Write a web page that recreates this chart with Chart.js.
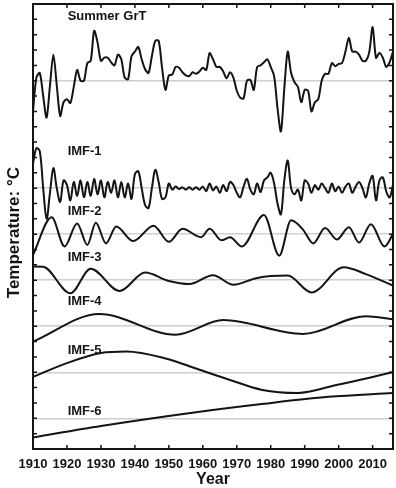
<!DOCTYPE html>
<html>
<head>
<meta charset="utf-8">
<script src="https://cdn.jsdelivr.net/npm/chart.js@4"></script>
<style>
  html, body { margin: 0; padding: 0; background: #fff; }
</style>
</head>
<body>
<canvas id="chart" width="396" height="488"></canvas>
<script>
// annual series (anomaly relative to each panel's own zero line)
const years = [
  1910, 1911, 1912, 1913, 1914, 1915, 1916, 1917, 1918, 1919,
  1920, 1921, 1922, 1923, 1924, 1925, 1926, 1927, 1928, 1929,
  1930, 1931, 1932, 1933, 1934, 1935, 1936, 1937, 1938, 1939,
  1940, 1941, 1942, 1943, 1944, 1945, 1946, 1947, 1948, 1949,
  1950, 1951, 1952, 1953, 1954, 1955, 1956, 1957, 1958, 1959,
  1960, 1961, 1962, 1963, 1964, 1965, 1966, 1967, 1968, 1969,
  1970, 1971, 1972, 1973, 1974, 1975, 1976, 1977, 1978, 1979,
  1980, 1981, 1982, 1983, 1984, 1985, 1986, 1987, 1988, 1989,
  1990, 1991, 1992, 1993, 1994, 1995, 1996, 1997, 1998, 1999,
  2000, 2001, 2002, 2003, 2004, 2005, 2006, 2007, 2008, 2009,
  2010, 2011, 2012, 2013, 2014, 2015, 2016
];

const summerGrT = [
  -2.0, 0.2, 0.5, -1.0, -2.4, -0.3, 1.7, -0.3, -2.3, -1.4,
  -1.2, -1.45, -0.4, 0.7, 0.0, 0.0, 1.15, 1.3, 3.25, 2.5,
  1.3, 1.5, 1.5, 1.2, 1.0, 1.7, 1.4, 0.2, 0.1, 1.6,
  1.9, 2.2, 1.4, 0.75, 0.5, 1.6, 2.6, 2.6, 0.85, -0.6,
  0.35, 0.4, 0.9, 0.85, 0.55, 0.35, 0.3, 0.55, 0.45, 0.6,
  0.85, 0.7, 1.8, 1.4, 0.9, 0.9, 0.6, 0.15, 0.55, 0.2,
  -0.65, -1.1, -1.15, 0.0, 0.05, -0.6, 0.9, 1.0, 1.2, 1.4,
  0.9, 0.3, -1.8, -3.3, -0.5, 1.9, 0.5, -0.1, -0.4, -1.4,
  -0.6, -0.65, -2.0, -1.4, -1.2, 0.0, 0.45, 0.45, 1.15, 0.95,
  1.1, 1.15, 1.9, 2.8, 1.9, 1.9, 1.7, 1.3, 1.3, 1.85,
  3.5, 1.5, 1.8, 1.5, 0.9, 1.2, 1.9
];

const imf1 = [
  1.6, 2.6, 2.4, 0.0, -2.0, -0.3, 1.3, 0.0, -0.9, 0.5,
  0.2, -0.8, 0.4, -0.5, 0.5, -0.6, 0.4, -0.5, 0.6, -0.4,
  0.5, -0.6, 0.4, -0.3, 0.5, -0.6, 0.4, -0.6, 0.3, -0.7,
  0.9, 1.1, 0.0, -1.1, -1.3, 0.0, 1.2, 0.4, -0.7, -0.6,
  0.3, -0.1, 0.1, -0.05, 0.05, -0.1, 0.05, -0.1, 0.05, -0.1,
  0.1, -0.2, 0.3, -0.15, 0.1, -0.3, 0.2, -0.2, 0.4, 0.2,
  -0.3, -0.6, 0.1, 0.6, -0.1, -0.4, 0.3, -0.25, 0.5, 0.7,
  1.0, 0.3, -1.0, -1.7, 0.5, 1.8, 0.0, -0.4, -0.1, -0.8,
  0.5, 0.3, -0.3, 0.2, -0.1, 0.3, 0.0, -0.3, 0.3, -0.2,
  0.1, -0.3, 0.1, 0.3, -0.3, 0.1, 0.4, 0.0, -0.6, 0.3,
  0.8, -0.8, 0.5, 0.7, -0.2, -0.6, 0.2
];

// smoother modes, read at their turning points
const imf2Years = [1910, 1915.5, 1919.3, 1923, 1926, 1928.5, 1931.5, 1934.5, 1939.5, 1945.5, 1950, 1954, 1959.5, 1962, 1965.5, 1968, 1971.5, 1978, 1982.5, 1986, 1989.5, 1992.5, 1996, 1999.5, 2003, 2006, 2009.5, 2013.5, 2016];
const imf2 = [-1.35, 1.1, -0.8, 0.7, -0.7, 0.75, -0.6, 0.5, -0.45, 0.55, -0.5, 0.35, -0.2, 0.35, -0.4, -0.2, -0.8, 1.25, -1.4, 0.9, 0.3, -0.6, 0.4, -0.35, 0.45, -0.55, 0.65, -0.8, 0.0];

const imf3Years = [1910, 1913, 1921, 1927, 1935.5, 1943, 1950, 1956, 1963, 1969, 1976, 1985, 1992, 2001.5, 2008, 2016];
const imf3 = [0.9, 0.88, -0.85, 0.75, -0.7, 0.5, -0.05, -0.25, 0.33, -0.3, 0.15, 0.3, -0.8, 0.85, 0.4, -0.35];

const imf4Years = [1910, 1929.5, 1952, 1966, 1989.5, 2008, 2016];
const imf4 = [-1.0, 0.8, -0.55, 0.4, -0.5, 0.65, 0.45];

const imf5Years = [1910, 1920, 1930, 1937.5, 1949, 1958, 1968, 1977.5, 1988, 1999, 2016];
const imf5 = [-0.3, 0.6, 1.25, 1.35, 0.9, 0.25, -0.5, -1.15, -1.35, -0.85, 0.0];

const imf6Years = [1910, 1930, 1958, 1978, 1997, 2016];
const imf6 = [-1.25, -0.5, 0.4, 0.95, 1.4, 1.65];

const seriesNames = ['Summer GrT', 'IMF-1', 'IMF-2', 'IMF-3', 'IMF-4', 'IMF-5', 'IMF-6'];
const xTickYears = [1910, 1920, 1930, 1940, 1950, 1960, 1970, 1980, 1990, 2000, 2010];

// vertical stacking of the panels (axis units)
const zeroLevels = [24, 17, 14, 11, 8, 5, 2];
const labelLevels = [28.2, 19.4, 15.5, 12.5, 9.6, 6.4, 2.45];
const labelYear = 1920.2;

const FONT = '"Liberation Sans", Arial, Helvetica, sans-serif';

const toPoints = (xs, vs, base) => vs.map((v, i) => ({ x: xs[i], y: v + base }));

const lineStyle = {
  borderColor: '#141414',
  borderWidth: 2,
  pointRadius: 0,
  fill: false
};

const datasets = [
  { ...lineStyle, label: seriesNames[0], data: toPoints(years, summerGrT, zeroLevels[0]), tension: 0.3 },
  { ...lineStyle, label: seriesNames[1], data: toPoints(years, imf1, zeroLevels[1]), tension: 0.35 },
  { ...lineStyle, label: seriesNames[2], data: toPoints(imf2Years, imf2, zeroLevels[2]), cubicInterpolationMode: 'monotone' },
  { ...lineStyle, label: seriesNames[3], data: toPoints(imf3Years, imf3, zeroLevels[3]), cubicInterpolationMode: 'monotone' },
  { ...lineStyle, label: seriesNames[4], data: toPoints(imf4Years, imf4, zeroLevels[4]), cubicInterpolationMode: 'monotone' },
  { ...lineStyle, label: seriesNames[5], data: toPoints(imf5Years, imf5, zeroLevels[5]), cubicInterpolationMode: 'monotone' },
  { ...lineStyle, label: seriesNames[6], data: toPoints(imf6Years, imf6, zeroLevels[6]), cubicInterpolationMode: 'monotone' }
];

// frame, inward tick marks, panel names and the y title
const framePlugin = {
  id: 'frame',
  afterDraw(chart) {
    const { ctx, chartArea: a, scales: { x, y } } = chart;
    ctx.save();
    ctx.strokeStyle = '#141414';
    ctx.lineWidth = 1.5;
    ctx.beginPath();
    xTickYears.forEach(v => {
      const px = x.getPixelForValue(v);
      ctx.moveTo(px, a.bottom); ctx.lineTo(px, a.bottom - 4);
      ctx.moveTo(px, a.top); ctx.lineTo(px, a.top + 4);
    });
    y.ticks.forEach(t => {
      const py = y.getPixelForValue(t.value);
      ctx.moveTo(a.left, py); ctx.lineTo(a.left + 4, py);
      ctx.moveTo(a.right, py); ctx.lineTo(a.right - 4, py);
    });
    ctx.stroke();
    ctx.lineWidth = 2;
    ctx.strokeRect(a.left, a.top, a.right - a.left, a.bottom - a.top);

    ctx.fillStyle = '#141414';
    ctx.font = 'bold 13px ' + FONT;
    ctx.textBaseline = 'middle';
    ctx.textAlign = 'left';
    seriesNames.forEach((n, i) => {
      ctx.fillText(n, x.getPixelForValue(labelYear), y.getPixelForValue(labelLevels[i]));
    });

    ctx.translate(14, y.getPixelForValue(14.1));
    ctx.rotate(-Math.PI / 2);
    ctx.textAlign = 'center';
    ctx.font = 'bold 17px ' + FONT;
    ctx.fillText('Temperature: °C', 0, 0);
    ctx.restore();
  }
};

new Chart(document.getElementById('chart'), {
  type: 'line',
  data: { datasets },
  options: {
    responsive: false,
    animation: false,
    layout: { padding: { top: 4, right: 3, left: 0, bottom: 0 } },
    plugins: {
      legend: { display: false },
      tooltip: { enabled: false }
    },
    scales: {
      x: {
        type: 'linear',
        min: 1910,
        max: 2016,
        grid: { display: false, drawTicks: false },
        border: { display: false },
        ticks: {
          stepSize: 10,
          includeBounds: false,
          autoSkip: false,
          maxRotation: 0,
          padding: 8,
          color: '#141414',
          font: { family: FONT, size: 13, weight: 'bold' },
          callback: v => String(v)
        },
        title: {
          display: true,
          text: 'Year',
          color: '#141414',
          font: { family: FONT, size: 16, weight: 'bold', lineHeight: 1 },
          padding: { top: 0, bottom: 0 }
        },
        afterFit(scale) { scale.height = 39; }
      },
      y: {
        min: 0,
        max: 29,
        ticks: { display: false, stepSize: 1 },
        grid: {
          drawTicks: false,
          lineWidth: 1.5,
          color: c => (c.tick && zeroLevels.includes(c.tick.value)) ? '#cfcfcf' : 'rgba(0,0,0,0)'
        },
        border: { display: false },
        afterFit(scale) { scale.width = 33; }
      }
    }
  },
  plugins: [framePlugin]
});
</script>
</body>
</html>
